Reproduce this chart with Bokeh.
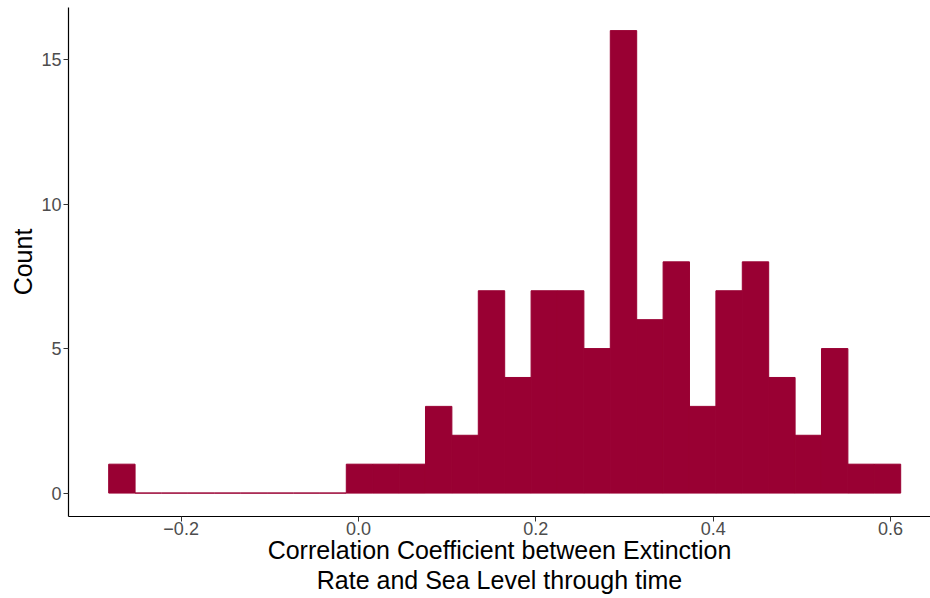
from bokeh.plotting import figure
from bokeh.models import Range1d, FixedTicker
from bokeh.embed import file_html
from bokeh.resources import INLINE

# Histogram of correlation coefficients: 30 equal bins
bin_start = -0.2817
bin_width = 0.02977
counts = [1, 0, 0, 0, 0, 0, 0, 0, 0, 1,
          1, 1, 3, 2, 7, 4, 7, 7, 5, 16,
          6, 8, 3, 7, 8, 4, 2, 5, 1, 1]
x_ticks = [-0.2, 0.0, 0.2, 0.4, 0.6]
y_ticks = [0, 5, 10, 15]
x_title = "Correlation Coefficient between Extinction\nRate and Sea Level through time"
y_title = "Count"

left = [bin_start + i * bin_width for i in range(len(counts))]
right = [l + bin_width for l in left]
bottom = [0] * len(counts)

bar_color = "#990033"

p = figure(width=930, height=598, output_backend="svg", toolbar_location=None,
           x_range=Range1d(-0.327, 0.645), y_range=Range1d(-0.81, 16.8),
           min_border_left=68, min_border_right=0, min_border_top=7,
           min_border_bottom=82)

p.quad(left=left, right=right, bottom=bottom, top=counts,
       fill_color=bar_color, line_color=bar_color, line_width=1)

p.grid.visible = False
p.outline_line_color = None
p.background_fill_color = "white"
p.border_fill_color = "white"

for ax in (p.xaxis[0], p.yaxis[0]):
    ax.axis_line_color = "black"
    ax.axis_line_width = 1.2
    ax.major_tick_line_color = "#333333"
    ax.major_tick_out = 5
    ax.major_tick_in = 0
    ax.minor_tick_line_color = None
    ax.major_label_text_font = "Liberation Sans"
    ax.major_label_text_font_size = "18px"
    ax.major_label_text_color = "#4D4D4D"
    ax.axis_label_text_font = "Liberation Sans"
    ax.axis_label_text_font_size = "25px"
    ax.axis_label_text_font_style = "normal"
    ax.axis_label_text_color = "black"

p.xaxis.ticker = FixedTicker(ticks=x_ticks)
p.yaxis.ticker = FixedTicker(ticks=y_ticks)
p.xaxis.major_label_overrides = {-0.2: "\u22120.2", 0.0: "0.0", 0.2: "0.2", 0.4: "0.4", 0.6: "0.6"}
p.xaxis.major_label_standoff = 0
p.yaxis.major_label_standoff = 2
p.xaxis.axis_label = x_title
p.xaxis.axis_label_standoff = -2
p.xaxis.axis_label_text_line_height = 1.08
p.yaxis.axis_label = y_title
p.yaxis.axis_label_standoff = 1

open("out.html", "w").write(file_html(p, INLINE))
